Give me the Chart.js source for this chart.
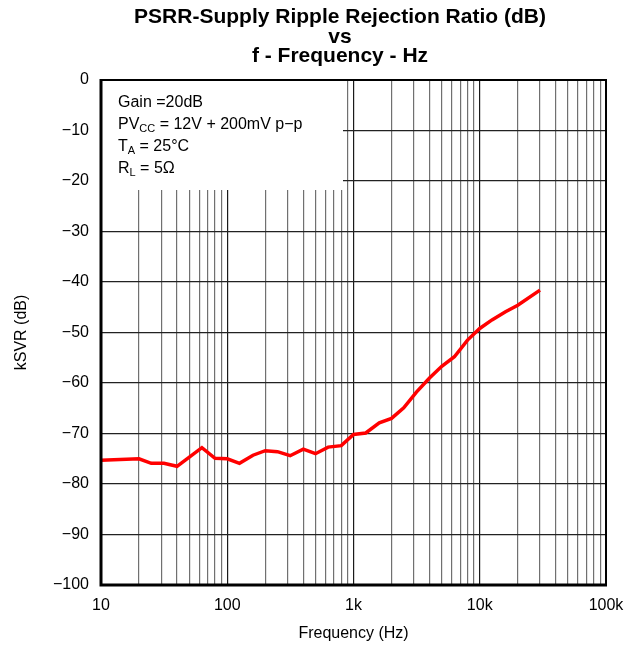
<!DOCTYPE html>
<html>
<head>
<meta charset="utf-8">
<script src="https://cdn.jsdelivr.net/npm/chart.js@4"></script>
<style>
  html, body { margin: 0; padding: 0; background: #fff; }
  #wrap { width: 640px; height: 645px; position: relative; }
</style>
</head>
<body>
<div id="wrap"><canvas id="psrr"></canvas></div>
<script>
// values
const freqHz = [10, 20, 25, 31.5, 40, 63, 80, 100, 125, 160, 200, 250, 315, 400, 500, 630, 800,
                1000, 1250, 1600, 2000, 2500, 3150, 4000, 5000, 6300, 8000, 10000, 12500, 16000, 20000, 30000];
const ksvrDb = [-75.3, -75.0, -75.9, -75.9, -76.5, -72.8, -74.9, -75.0, -75.9, -74.3, -73.4, -73.6, -74.4, -73.1, -74.0, -72.7, -72.4,
                -70.2, -69.9, -67.9, -67.0, -64.9, -61.8, -59.0, -56.7, -54.8, -51.5, -49.2, -47.5, -45.9, -44.6, -41.6];
const xTickLabels = {10: '10', 100: '100', 1000: '1k', 10000: '10k', 100000: '100k'};
const yTicks = [0, -10, -20, -30, -40, -50, -60, -70, -80, -90, -100];
const titleLines = ['PSRR-Supply Ripple Rejection Ratio (dB)', 'vs', 'f - Frequency - Hz'];
const noteLines = [
    [['Gain =20dB', false]],
    [['PV', false], ['CC', true], [' = 12V + 200mV p\u2212p', false]],
    [['T', false], ['A', true], [' = 25\u00b0C', false]],
    [['R', false], ['L', true], [' = 5\u03a9', false]]
];

const FONT = '"Liberation Sans", Arial, sans-serif';
const isDecade = v => Math.abs(Math.log10(v) - Math.round(Math.log10(v))) < 1e-9;

const framePlugin = {
    id: 'frame',
    beforeDatasetsDraw: chart => {
        const ctx = chart.ctx;
        const a = chart.chartArea;
        ctx.save();
        // white box behind the conditions text
        ctx.fillStyle = '#fff';
        ctx.fillRect(a.left, a.top, 242, 110);
        ctx.fillStyle = '#000';
        ctx.textBaseline = 'middle';
        ctx.textAlign = 'left';
        noteLines.forEach((parts, i) => {
            let x = a.left + 17;
            const y = a.top + 23 + i * 22;
            parts.forEach(([t, sub]) => {
                ctx.font = (sub ? '11px ' : '16px ') + FONT;
                ctx.fillText(t, x, sub ? y + 4 : y);
                x += ctx.measureText(t).width;
            });
        });
        ctx.restore();
    },
    afterDraw: chart => {
        const ctx = chart.ctx;
        const a = chart.chartArea;
        ctx.save();
        ctx.strokeStyle = '#000';
        ctx.lineWidth = 2;
        ctx.beginPath();
        ctx.moveTo(a.left, a.top);
        ctx.lineTo(a.right, a.top);
        ctx.lineTo(a.right, a.bottom);
        ctx.stroke();
        ctx.lineWidth = 3;
        ctx.beginPath();
        ctx.moveTo(a.left, a.top - 1);
        ctx.lineTo(a.left, a.bottom);
        ctx.lineTo(a.right + 1, a.bottom);
        ctx.stroke();
        // title
        ctx.fillStyle = '#000';
        ctx.textAlign = 'center';
        ctx.textBaseline = 'middle';
        ctx.font = 'bold 21px ' + FONT;
        const cy = [17, 37, 56];
        titleLines.forEach((t, i) => ctx.fillText(t, 340, cy[i]));
        ctx.restore();
    }
};

const ctx = document.getElementById('psrr').getContext('2d');
const chart = new Chart(ctx, {
    type: 'line',
    plugins: [framePlugin],
    data: {
        datasets: [{
            data: freqHz.map((f, i) => ({x: f, y: ksvrDb[i]})),
            borderColor: '#ff0000',
            borderWidth: 3.5,
            pointRadius: 0,
            tension: 0,
            fill: false
        }]
    },
    options: {
        responsive: true,
        maintainAspectRatio: false,
        animation: false,
        layout: { padding: { top: 80, right: 34, left: 0, bottom: 0 } },
        plugins: {
            legend: { display: false },
            title: { display: false },
            tooltip: { enabled: false }
        },
        scales: {
            x: {
                type: 'logarithmic',
                min: 10,
                max: 100000,
                afterBuildTicks: scale => {
                    const t = [];
                    for (let d = 10; d < 100000; d *= 10) {
                        for (let m = 1; m < 10; m++) t.push({value: d * m});
                    }
                    t.push({value: 100000});
                    scale.ticks = t;
                },
                afterFit: scale => { scale.height = 60; },
                ticks: {
                    autoSkip: false,
                    maxRotation: 0,
                    padding: 11,
                    color: '#000',
                    font: { family: FONT, size: 16 },
                    callback: v => xTickLabels[v] || ''
                },
                grid: {
                    drawTicks: false,
                    color: c => isDecade(c.tick.value) ? '#1a1a1a' : '#707070',
                    lineWidth: 1.2
                },
                border: { display: false },
                title: {
                    display: true,
                    text: 'Frequency (Hz)',
                    color: '#000',
                    font: { family: FONT, size: 16 },
                    padding: { top: 4, bottom: 2 }
                }
            },
            y: {
                min: -100,
                max: 0,
                afterBuildTicks: scale => { scale.ticks = yTicks.map(v => ({value: v})); },
                afterFit: scale => { scale.width = 101; },
                ticks: {
                    padding: 12,
                    color: '#000',
                    font: { family: FONT, size: 16 },
                    callback: v => String(v).replace('-', '\u2212')
                },
                grid: { drawTicks: false, color: '#222', lineWidth: 1.2 },
                border: { display: false },
                title: {
                    display: true,
                    text: 'kSVR (dB)',
                    color: '#000',
                    font: { family: FONT, size: 16 },
                    padding: { top: 12, bottom: 0 }
                }
            }
        }
    }
});
</script>
</body>
</html>
